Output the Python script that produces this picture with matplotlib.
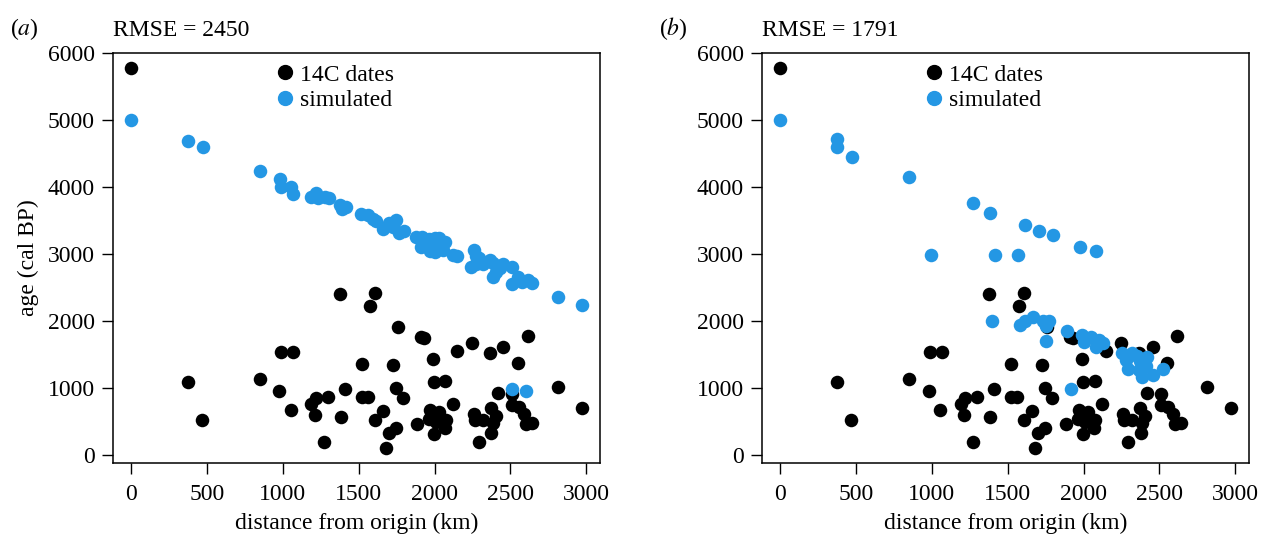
import matplotlib.pyplot as plt
from matplotlib.lines import Line2D

plt.rcParams['font.family'] = ['Liberation Serif', 'DejaVu Serif']
plt.rcParams['mathtext.fontset'] = 'stix'
plt.rcParams['font.size'] = 17

# 14C dates (same in both panels)
dist = [0, 377, 469, 847, 978, 991, 1064, 1057, 1189, 1221, 1211, 1272, 1300,
        1375, 1384, 1410, 1520, 1520, 1562, 1577, 1610, 1610, 1660, 1678, 1699,
        1728, 1743, 1743, 1761, 1792, 1882, 1908, 1928, 1963, 1971, 1989, 1996,
        1998, 2011, 2026, 2070, 2072, 2077, 2121, 2147, 2246, 2258, 2267, 2292,
        2322, 2362, 2371, 2375, 2388, 2406, 2416, 2454, 2512, 2509, 2548, 2555,
        2588, 2603, 2618, 2642, 2811, 2971]
age = [5780, 1079, 512, 1130, 945, 1527, 1527, 672, 756, 846, 592, 189, 856,
       2407, 567, 975, 1353, 866, 856, 2229, 2413, 517, 657, 100, 318,
       1333, 1000, 398, 1915, 846, 453, 1756, 1736, 537, 662, 1428, 1090,
       303, 483, 637, 398, 1100, 517, 756, 1547, 1672, 607, 517, 194,
       522, 1517, 697, 328, 472, 572, 925, 1602, 900, 746, 1368, 711,
       612, 458, 1772, 473, 1015, 697]

# simulated, panel (a)
sim_a_dist = [0, 377, 471, 849, 980, 991, 1057, 1064, 1189, 1217, 1232, 1276,
              1305, 1375, 1390, 1415, 1515, 1561, 1594, 1612, 1660, 1699, 1743,
              1726, 1765, 1798, 1879, 1917, 1912, 1963, 2000, 2026, 1967, 1989,
              2033, 2072, 2000, 2055, 2121, 2147, 2257, 2241, 2274, 2296, 2274,
              2318, 2362, 2388, 2388, 2406, 2428, 2454, 2511, 2511, 2548, 2577,
              2614, 2642, 2811, 2971, 2509, 2603]
sim_a_age = [5000, 4691, 4602, 4239, 4129, 4000, 4005, 3905, 3855, 3915, 3845,
             3855, 3845, 3731, 3680, 3700, 3597, 3577, 3517, 3497, 3368, 3468,
             3503, 3398, 3308, 3348, 3259, 3249, 3100, 3219, 3234, 3234, 3045,
             3134, 3109, 3184, 3035, 3060, 2985, 2970, 3060, 2801, 2970, 2935,
             2851, 2851, 2910, 2870, 2661, 2736, 2786, 2851, 2811, 2552, 2661,
             2587, 2612, 2563, 2354, 2239, 980, 945]

# simulated, panel (b)
sim_b_dist = [0, 378, 378, 471, 849, 995, 1417, 1274, 1380, 1567, 1615, 1708,
              1797, 1976, 2079, 1397, 1580, 1613, 1668, 1734, 1771, 1749, 1888,
              1991, 2046, 2101, 1749, 2002, 2079, 2086, 2130, 1919, 2255, 2277,
              2292, 2321, 2354, 2372, 2365, 2387, 2420, 2409, 2460, 2523]
sim_b_age = [5000, 4721, 4602, 4452, 4149, 2985, 2985, 3761, 3617, 2980, 3433,
             3343, 3279, 3100, 3040, 2000, 1933, 1997, 2060, 2003, 1995, 1922,
             1844, 1784, 1762, 1716, 1701, 1676, 1607, 1691, 1667, 980, 1518,
             1418, 1279, 1518, 1467, 1393, 1269, 1160, 1458, 1328, 1184, 1284]

blue = '#2497E4'
fig = plt.figure(figsize=(12.61, 5.37), dpi=100)

panels = [('a', 'RMSE = 2450', sim_a_dist, sim_a_age, 0.0896),
          ('b', 'RMSE = 1791', sim_b_dist, sim_b_age, 0.6043)]

for lab, rmse, sx, sy, left in panels:
    ax = fig.add_axes([left, 0.1378, 0.3862, 0.7635])
    ax.scatter(dist, age, s=95, color='black', linewidths=0, zorder=3)
    ax.scatter(sx, sy, s=95, color=blue, linewidths=0, zorder=4)
    ax.set_xlim(-119, 3090)
    ax.set_ylim(-127, 6007)
    ax.set_xticks([0, 500, 1000, 1500, 2000, 2500, 3000])
    ax.set_yticks([0, 1000, 2000, 3000, 4000, 5000, 6000])
    ax.tick_params(direction='out', length=8, width=1, pad=5)
    ax.tick_params(axis='x', pad=7)
    for sp in ax.spines.values():
        sp.set_linewidth(1.1)
    ax.set_xlabel('distance from origin (km)', labelpad=6)
    if lab == 'a':
        ax.set_ylabel('age (cal BP)', labelpad=6)
    ax.set_title(rmse, loc='left', pad=12, fontsize=17)
    fig.text(left - 0.082, 0.935, '($\\it{%s}$)' % lab, fontsize=17,
             va='baseline')
    handles = [Line2D([], [], marker='o', ls='', color='black', markersize=10),
               Line2D([], [], marker='o', ls='', color=blue, markersize=10)]
    ax.legend(handles, ['14C dates', 'simulated'], loc='upper left',
              bbox_to_anchor=(0.32, 0.99), frameon=False, handlelength=0.8,
              handletextpad=0.2, labelspacing=0.15, borderaxespad=0,
              borderpad=0.3)

fig.savefig('out.png', dpi=100)
